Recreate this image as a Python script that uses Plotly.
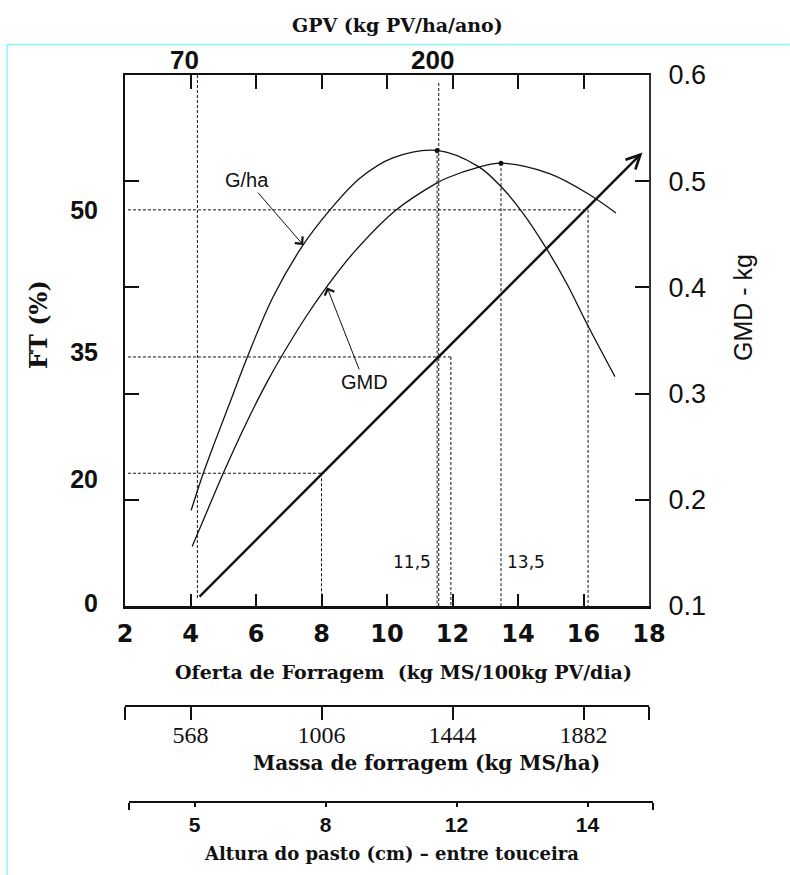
import plotly.graph_objects as go

# ---------------- data ----------------
# x scale: Oferta de Forragem (kg MS/100kg PV/dia)
offer_ticks = [2, 4, 6, 8, 10, 12, 14, 16, 18]
gmd_ticks = [0.1, 0.2, 0.3, 0.4, 0.5, 0.6]

# G/ha curve (plotted on the GMD scale)
gha_offer = [4.02, 4.38, 4.75, 5.21, 5.73, 6.52, 7.44, 8.26, 9.18, 10.18, 11.53,
             12.78, 13.45, 14.15, 14.88, 15.5, 16.1, 16.96]
gha_gmd = [0.190, 0.224, 0.255, 0.292, 0.334, 0.391, 0.440, 0.473, 0.503, 0.522, 0.529,
           0.514, 0.496, 0.470, 0.436, 0.403, 0.366, 0.316]

# GMD curve (kg)
gmd_offer = [4.05, 4.75, 5.0, 5.73, 6.34, 6.76, 7.56, 8.17, 8.96, 10.24, 11.5, 11.83,
             12.78, 13.48, 14.98, 16.2, 16.99]
gmd_gmd = [0.156, 0.207, 0.225, 0.274, 0.311, 0.334, 0.374, 0.401, 0.432, 0.472, 0.498, 0.503,
           0.513, 0.517, 0.507, 0.487, 0.470]

# FT (%) diagonal line
ft_offer = [4.23, 17.8]
ft_gmd = [0.1075, 0.527]
ft_labels = ["0", "20", "35", "50"]
ft_label_gmd = [0.103, 0.219, 0.339, 0.473]
ft_level_gmd = [0.1, 0.225, 0.3345, 0.473]
ft_level_offer = [4.21, 8.0, 11.95, 16.14]

# peaks
peak_offer = [11.53, 13.48]
peak_gmd = [0.529, 0.517]
peak_labels = ["11,5", "13,5"]

# GPV (kg PV/ha/ano) top scale
gpv_labels = ["70", "200"]
gpv_offer = [4.21, 11.58]
gpv_line_top = [0.6, 0.5925]

# lower scales
lower_offer = [4, 8, 12, 16]
massa_labels = ["568", "1006", "1444", "1882"]
altura_labels = ["5", "8", "12", "14"]

# ---------------- figure ----------------
SANS = "Liberation Sans, Arial, sans-serif"
SERIF = "DejaVu Serif, Liberation Serif, serif"
INK = "#111111"

W, H = 790, 875
ML, MR, MT, MB = 125, 135, 75, 0
PW = W - ML - MR  # 530
PH = H - MT - MB  # 800


def px_x(p):
    return (p - ML) / PW


def px_y(p):
    return (H - MB - p) / PH


fig = go.Figure()

# dashed guide lines
dx, dy = [], []
x_left = 2.09
for lvl_x, lvl_y in zip(ft_level_offer[1:], ft_level_gmd[1:]):
    dx += [x_left, lvl_x, None, lvl_x, lvl_x, None]
    dy += [lvl_y, lvl_y, None, lvl_y, 0.1, None]
for gx, top in zip(gpv_offer, gpv_line_top):
    bottom = ft_gmd[0] if gx == gpv_offer[0] else 0.1
    dx += [gx, gx, None]
    dy += [bottom, top, None]
for pxv, pyv in zip(peak_offer, peak_gmd):
    dx += [pxv, pxv, None]
    dy += [pyv, 0.1, None]
fig.add_trace(go.Scatter(x=dx, y=dy, mode="lines", cliponaxis=False,
                         line=dict(color=INK, width=1, dash="3px,2px"),
                         hoverinfo="skip", showlegend=False))

# curves
fig.add_trace(go.Scatter(x=gha_offer, y=gha_gmd, mode="lines", name="G/ha",
                         line=dict(color=INK, width=1.3, shape="spline", smoothing=1.0),
                         showlegend=False))
fig.add_trace(go.Scatter(x=gmd_offer, y=gmd_gmd, mode="lines", name="GMD",
                         line=dict(color=INK, width=1.3, shape="spline", smoothing=1.0),
                         showlegend=False))
fig.add_trace(go.Scatter(x=peak_offer, y=peak_gmd, mode="markers",
                         marker=dict(color=INK, size=5), showlegend=False, hoverinfo="skip"))

# invisible anchors so that every extra axis is drawn
ghost = dict(mode="markers", marker=dict(opacity=0, size=1), hoverinfo="skip", showlegend=False)
fig.add_trace(go.Scatter(x=[2, 18], y=[0.1, 0.6], xaxis="x", yaxis="y2", **ghost))
fig.add_trace(go.Scatter(x=[2, 18], y=[0.1, 0.6], xaxis="x", yaxis="y3", **ghost))
fig.add_trace(go.Scatter(x=[2, 18], y=[0.1, 0.6], xaxis="x2", yaxis="y", **ghost))
fig.add_trace(go.Scatter(x=[2, 18], y=[0.1, 0.6], xaxis="x3", yaxis="y", **ghost))
fig.add_trace(go.Scatter(x=[2, 18], y=[0.1, 0.6], xaxis="x5", yaxis="y", **ghost))

ann = []
# FT diagonal with arrow head
ann.append(dict(x=ft_offer[1], y=ft_gmd[1], ax=ft_offer[0], ay=ft_gmd[0],
                xref="x", yref="y", axref="x", ayref="y", text="", showarrow=True,
                arrowhead=5, arrowsize=1.1, arrowwidth=2.5, arrowcolor=INK))
# curve labels
ann.append(dict(x=7.44, y=0.440, ax=5.73, ay=0.501, xref="x", yref="y", axref="x", ayref="y",
                text="G/ha", showarrow=True, arrowhead=4, arrowsize=2, arrowwidth=1,
                arrowcolor=INK, font=dict(family=SANS, size=20, color=INK)))
ann.append(dict(x=8.17, y=0.40, ax=9.30, ay=0.311, xref="x", yref="y", axref="x", ayref="y",
                text="GMD", showarrow=True, arrowhead=4, arrowsize=2, arrowwidth=1,
                arrowcolor=INK, font=dict(family=SANS, size=20, color=INK)))
# peak labels
for lab, pxv, xs, xa in zip(peak_labels, peak_offer, [-4, 4], ["right", "left"]):
    ann.append(dict(x=pxv, y=0.1414, xref="x", yref="y", text=lab, showarrow=False,
                    xanchor=xa, xshift=xs, yanchor="middle",
                    font=dict(family="DejaVu Sans, sans-serif", size=17, color=INK)))
# GPV labels
for lab, gx, xs in zip(gpv_labels, gpv_offer, [-13, -6]):
    ann.append(dict(x=gx, y=1, xref="x", yref="paper", text=lab, showarrow=False,
                    xanchor="center", yanchor="bottom", xshift=xs, yshift=-2,
                    font=dict(family=SANS, size=26, color=INK, weight="bold")))


def title(text, cx, cy, size, family, bold=True, angle=0):
    f = dict(family=family, size=size, color=INK)
    if bold:
        f["weight"] = "bold"
    return dict(x=px_x(cx), y=px_y(cy), xref="paper", yref="paper", text=text,
                textangle=angle, xanchor="center", yanchor="middle",
                showarrow=False, font=f)


ann.append(title("GPV (kg PV/ha/ano)", 397, 25, 19, SERIF))
ann.append(title("FT (%)", 38, 325, 24, SERIF, angle=-90))
ann.append(title("GMD - kg", 743, 308, 25, SANS, bold=False, angle=-90))
ann.append(title("Oferta de Forragem  (kg MS/100kg PV/dia)", 403, 672, 19, SERIF))
ann.append(title("Massa de forragem (kg MS/ha)", 426, 763, 20, SERIF))
ann.append(title("Altura do pasto (cm) \u2013 entre touceira", 391, 853, 18, SERIF))

cyan = "#86f4f8"
shapes = [
    dict(type="line", xref="paper", yref="paper", x0=px_x(7), x1=px_x(790), y0=px_y(44.5), y1=px_y(44.5),
         line=dict(color=cyan, width=1.5)),
    dict(type="line", xref="paper", yref="paper", x0=px_x(7), x1=px_x(7), y0=px_y(44.5), y1=0,
         line=dict(color=cyan, width=1.5)),
]

main_dom = [0, 524 / PW]
ydom = [px_y(606), 1]
common = dict(showgrid=False, zeroline=False, automargin=False)

fig.update_layout(
    width=W, height=H,
    margin=dict(l=ML, r=MR, t=MT, b=MB),
    paper_bgcolor="white", plot_bgcolor="rgba(0,0,0,0)",
    showlegend=False,
    annotations=ann, shapes=shapes,
    xaxis=dict(domain=main_dom, range=[2, 18], tickvals=offer_ticks, ticks="inside", ticklen=12,
               tickwidth=1.5, tickcolor=INK, showline=True, linewidth=2.5, linecolor=INK,
               tickfont=dict(family="DejaVu Sans, sans-serif", size=24, color=INK, weight="bold"),
               ticklabelstandoff=4, anchor="y", **common),
    xaxis2=dict(domain=main_dom, range=[2, 18], overlaying="x", side="top", anchor="y",
                tickvals=offer_ticks[1:-1], ticks="inside", ticklen=14, tickwidth=1.5, tickcolor=INK,
                showticklabels=False, showline=True, linewidth=2, linecolor=INK, **common),
    xaxis3=dict(range=[2, 18], overlaying="x", anchor="free", position=px_y(706), side="bottom",
                tickvals=[2] + lower_offer + [18], ticktext=[""] + massa_labels + [""],
                ticks="outside", ticklen=13, tickwidth=1.5, tickcolor=INK,
                showline=True, linewidth=1.5, linecolor=INK, ticklabelstandoff=-6,
                tickfont=dict(family="Liberation Serif, serif", size=24, color=INK), **common),
    xaxis5=dict(domain=[4 / PW, 528 / PW], range=[2, 18], anchor="free", position=px_y(802), side="bottom",
                tickvals=lower_offer, ticktext=altura_labels,
                ticks="outside", ticklen=4, tickwidth=1.5, tickcolor=INK,
                minor=dict(tickmode="array", tickvals=[2, 18], ticks="outside", ticklen=7,
                           tickwidth=1.5, tickcolor=INK),
                showline=True, linewidth=1.5, linecolor=INK,
                tickfont=dict(family=SANS, size=21, color=INK, weight="bold"), **common),
    yaxis=dict(domain=ydom, range=[0.1, 0.6], tickvals=gmd_ticks[1:-1], ticks="inside", ticklen=14,
               tickwidth=1.5, tickcolor=INK, showticklabels=False, showline=True, linewidth=2,
               linecolor=INK, anchor="x", **common),
    yaxis2=dict(range=[0.1, 0.6], overlaying="y", side="right", anchor="x",
                tickvals=gmd_ticks, ticktext=[f"{v:.1f}" for v in gmd_ticks],
                ticks="inside", ticklen=14, tickwidth=1.5, tickcolor=INK,
                showline=True, linewidth=2, linecolor="#333333", ticklabelstandoff=12,
                tickfont=dict(family=SANS, size=27, color=INK), **common),
    yaxis3=dict(range=[0.1, 0.6], overlaying="y", side="left", anchor="x",
                tickvals=ft_label_gmd, ticktext=ft_labels, ticks="", showline=False,
                ticklabelstandoff=26,
                tickfont=dict(family=SANS, size=25, color=INK, weight="bold"), **common),
)

fig.write_html("out.html")
